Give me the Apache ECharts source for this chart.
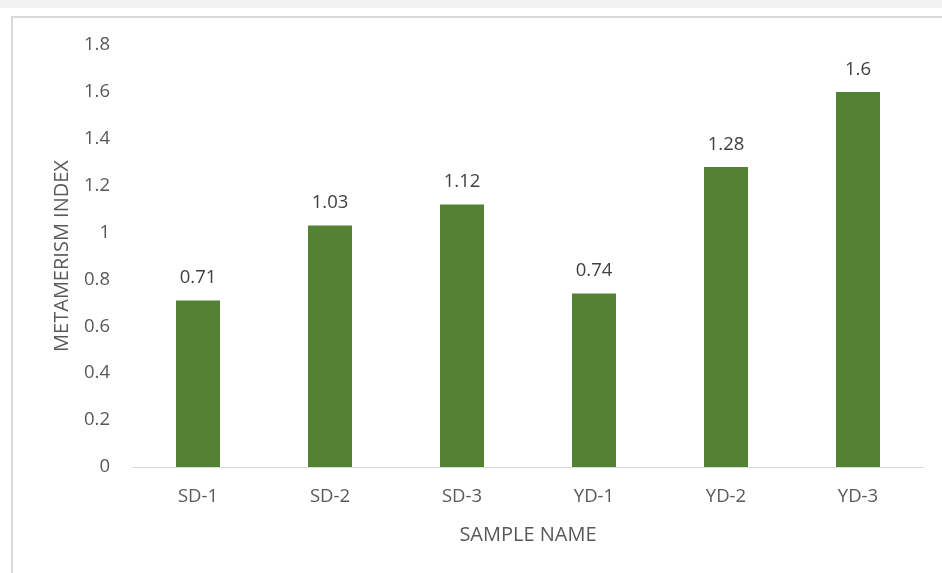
<!DOCTYPE html>
<html>
<head>
<meta charset="utf-8">
<script src="https://cdn.jsdelivr.net/npm/echarts@6/dist/echarts.min.js"></script>
<style>
  html, body { margin: 0; padding: 0; background: #fff; }
  #topbar { position: absolute; left: 0; top: 0; width: 942px; height: 8px; background: #f2f2f2; }
  #frame { position: absolute; left: 11px; top: 16px; width: 940px; height: 570px;
           border-left: 2px solid #d9d9d9; border-top: 2px solid #d9d9d9; }
  #main { position: absolute; left: 0; top: 0; width: 942px; height: 573px; }
</style>
</head>
<body>
<div id="topbar"></div>
<div id="frame"></div>
<div id="main"></div>
<script>
// sample names and metamerism index values
var sampleNames = ['SD-1', 'SD-2', 'SD-3', 'YD-1', 'YD-2', 'YD-3'];
var metamerismIndex = [0.71, 1.03, 1.12, 0.74, 1.28, 1.6];
var yTicks = [0, 0.2, 0.4, 0.6, 0.8, 1, 1.2, 1.4, 1.6, 1.8];

var fontFam = '"Open Sans", Lato, sans-serif';
var fs = 18.5;      // tick + data labels
var titleFs = 20;   // axis titles

var chart = echarts.init(document.getElementById('main'), null, { renderer: 'canvas' });

var options = {
  animation: false,
  textStyle: { fontFamily: fontFam },
  grid: { left: 132, right: 18, top: 45, bottom: 106 },
  xAxis: {
    type: 'category',
    data: sampleNames,
    name: 'SAMPLE NAME',
    nameLocation: 'middle',
    nameGap: 58,
    nameTextStyle: { color: '#595959', fontSize: titleFs, fontFamily: fontFam },
    axisLine: { lineStyle: { color: '#d9d9d9', width: 1 } },
    axisTick: { show: false },
    axisLabel: { color: '#595959', fontSize: fs, margin: 20, fontFamily: fontFam }
  },
  yAxis: {
    type: 'value',
    min: 0,
    max: yTicks[yTicks.length - 1],
    interval: 0.2,
    name: 'METAMERISM INDEX',
    nameLocation: 'middle',
    nameGap: 60,
    nameTextStyle: { color: '#595959', fontSize: titleFs, fontFamily: fontFam },
    axisLine: { show: false },
    axisTick: { show: false },
    splitLine: { show: false },
    axisLabel: {
      color: '#595959', fontSize: fs, margin: 22, fontFamily: fontFam,
      formatter: function (v) { return String(Math.round(v * 10) / 10); }
    }
  },
  series: [
    {
      name: 'Metamerism index',
      type: 'bar',
      data: metamerismIndex,
      barWidth: 44,
      itemStyle: { color: '#548235' },
      label: {
        show: true,
        position: 'top',
        distance: 13,
        color: '#404040',
        fontSize: fs,
        fontFamily: fontFam
      }
    }
  ]
};

chart.setOption(options);
</script>
</body>
</html>
